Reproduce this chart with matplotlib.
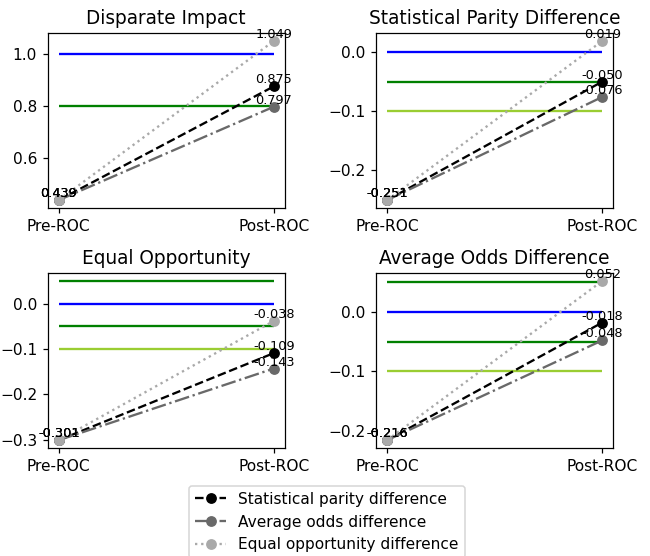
import matplotlib
matplotlib.use("Agg")
import matplotlib.pyplot as plt

stages = ["Pre-ROC", "Post-ROC"]
titles = ["Disparate Impact", "Statistical Parity Difference",
          "Equal Opportunity", "Average Odds Difference"]
series_names = ["Statistical parity difference", "Average odds difference",
                "Equal opportunity difference"]

# values per metric: [series][stage]
di_vals = [[0.439, 0.875], [0.439, 0.797], [0.439, 1.049]]
spd_vals = [[-0.251, -0.050], [-0.251, -0.076], [-0.251, 0.019]]
eo_vals = [[-0.301, -0.109], [-0.301, -0.143], [-0.301, -0.038]]
aod_vals = [[-0.216, -0.018], [-0.216, -0.048], [-0.216, 0.052]]

# reference lines per metric: (value, color)
di_refs = [(1.0, "blue"), (0.8, "green")]
spd_refs = [(0.0, "blue"), (-0.05, "green"), (-0.1, "yellowgreen")]
eo_refs = [(0.05, "green"), (0.0, "blue"), (-0.05, "green"), (-0.1, "yellowgreen")]
aod_refs = [(0.05, "green"), (0.0, "blue"), (-0.05, "green"), (-0.1, "yellowgreen")]

all_vals = [di_vals, spd_vals, eo_vals, aod_vals]
all_refs = [di_refs, spd_refs, eo_refs, aod_refs]

styles = [dict(color="black", linestyle="--"),
          dict(color="dimgray", linestyle="-."),
          dict(color="darkgray", linestyle=":")]

dpi = 111
fig, axes = plt.subplots(2, 2, figsize=(650 / dpi, 556 / dpi), dpi=dpi)
fig.subplots_adjust(left=0.0738, right=0.943, top=0.9406, bottom=0.194,
                     wspace=0.388, hspace=0.371)

x = [0, 1]
handles = []
for ax, title, vals, refs in zip(axes.flat, titles, all_vals, all_refs):
    for yv, c in refs:
        ax.hlines(yv, 0, 1, colors=c)
    hs = []
    for name, v, st in zip(series_names, vals, styles):
        h, = ax.plot(x, v, marker="o", label=name, **st)
        hs.append(h)
        for xi, yi in zip(x, v):
            ax.text(xi, yi, f"{yi:.3f}", ha="center", va="bottom", fontsize="small")
    handles = hs
    ax.set_xticks(x)
    ax.set_xticklabels(stages)
    ax.set_title(title)

fig.legend(handles=handles, loc="upper center",
           bbox_to_anchor=(0.503, 1 - 478 / 556), ncol=1)

fig.savefig("out.png", dpi=dpi)
